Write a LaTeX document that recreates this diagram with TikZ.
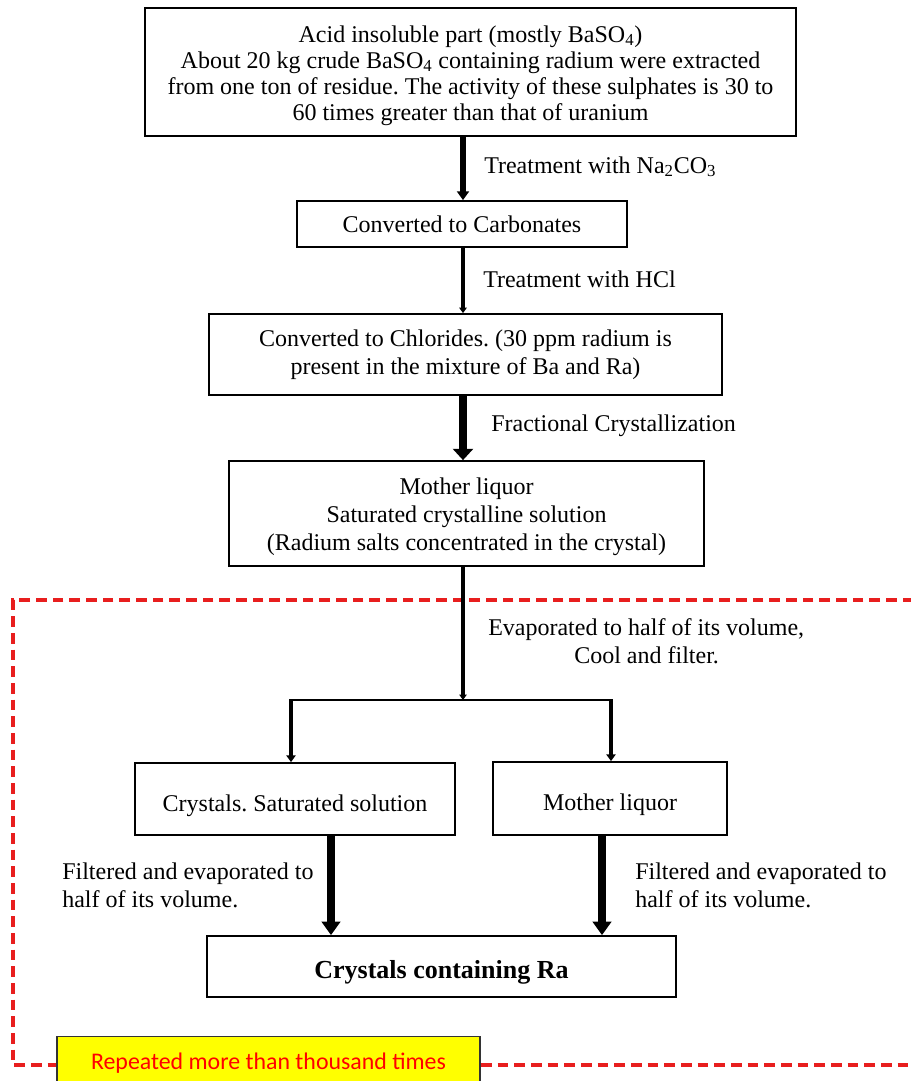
\documentclass[tikz,border=0pt]{standalone}
\usepackage{fontspec}
\setmainfont{Liberation Serif}
\newfontfamily\carlitofont{Carlito}
\usetikzlibrary{arrows.meta}
\definecolor{dashred}{HTML}{E81E1E}
\definecolor{boxyellow}{HTML}{FFFF00}
\frenchspacing
\begin{document}
\begin{tikzpicture}[x=0.75pt,y=-0.75pt,
  stepbox/.style={draw,line width=1.3pt,inner sep=0pt,align=center,
    font=\fontsize{18}{21}\selectfont},
  lbl/.style={inner sep=0pt,font=\fontsize{18}{21}\selectfont},
  arr/.style={-{Triangle[width=#1*2.3,length=#1*1.7]},line width=#1},
]
\useasboundingbox (0,0) rectangle (910,1081);
% red dashed frame
\draw[dashred,line width=2.6pt,dash pattern=on 8pt off 4.5pt]
  (930,600) -- (13,600) -- (13,1065) -- (930,1065);
% spine
\coordinate (spine) at (463,0);
% boxes
\node[stepbox,minimum width=488.25pt,minimum height=96pt,
  font=\fontsize{18}{19.6}\selectfont] (b1) at (470.5,72)
  {\rule{0pt}{18.25pt}Acid insoluble part (mostly BaSO\textsubscript{4})\\
   About 20 kg crude BaSO\textsubscript{4} containing radium were extracted\\
   from one ton of residue. The activity of these sulphates is 30 to\\
   60 times greater than that of uranium};
\node[stepbox,minimum width=247.5pt,minimum height=34.5pt] (b2) at (462,224)
  {Converted to Carbonates};
\node[stepbox,minimum width=384.75pt,minimum height=60.75pt] (b3) at (465.5,354.5)
  {Converted to Chlorides. (30 ppm radium is\\present in the mixture of Ba and Ra)};
\node[stepbox,minimum width=356.25pt,minimum height=78.75pt] (b4) at (466.5,513.5)
  {\rule{0pt}{17.5pt}Mother liquor\\Saturated crystalline solution\\(Radium salts concentrated in the crystal)};
\node[stepbox,minimum width=240pt,minimum height=54pt] (b5) at (295,799)
  {\rule{0pt}{22pt}Crystals. Saturated solution};
\node[stepbox,minimum width=175.5pt,minimum height=54.75pt] (b6) at (610,798.5)
  {\rule{0pt}{22pt}Mother liquor};
\node[stepbox,minimum width=351.75pt,minimum height=45.75pt,
  font=\fontsize{19.5}{22}\selectfont\bfseries] (b7) at (441.5,966.5)
  {\rule{0pt}{22pt}Crystals containing Ra};
% labels
\node[lbl,anchor=west] (l1) at (484,167) {Treatment with Na\textsubscript{2}CO\textsubscript{3}};
\node[lbl,anchor=west] (l2) at (483,279) {Treatment with HCl};
\node[lbl,anchor=west] (l3) at (491,426) {Fractional Crystallization};
\node[lbl,anchor=west,align=left] (l4) at (488,641)
  {Evaporated to half of its volume,\\\hspace*{64.5pt}Cool and filter.};
\node[lbl,anchor=west,align=left] (l5) at (62,885)
  {Filtered and evaporated to\\half of its volume.};
\node[lbl,anchor=west,align=left] (l6) at (635,885)
  {Filtered and evaporated to\\half of its volume.};
% arrows
\draw[arr=3.9pt] (b1.south -| spine) -- (b2.north -| spine);
\draw[arr=2.4pt] (b2.south -| spine) -- (b3.north -| spine);
\draw[-{Triangle[width=15pt,length=8.5pt]},line width=6.3pt]
  (b3.south -| spine) -- (b4.north -| spine);
\coordinate (split) at (463,700);
\coordinate (sl) at (291,700);
\coordinate (sr) at (611,700);
\draw[arr=2.4pt] (b4.south -| spine) -- (split);
\draw[line width=1.3pt] (sl) -- (sr);
\draw[arr=3pt] ([yshift=0.6pt]sl) -- (b5.north -| sl);
\draw[arr=3pt] ([yshift=0.6pt]sr) -- (b6.north -| sr);
\coordinate (dl) at (331,0);
\coordinate (dr) at (602,0);
\draw[arr=6pt] (b5.south -| dl) -- (b7.north -| dl);
\draw[arr=6pt] (b6.south -| dr) -- (b7.north -| dr);
% yellow note
\node[draw=black!80,line width=1pt,fill=boxyellow,minimum width=317.25pt,
  minimum height=40pt,inner sep=0pt,text=red,
  font=\carlitofont\fontsize{17.9}{20}\selectfont] (note) at (268.5,1063)
  {Repeated more than thousand times};
\end{tikzpicture}
\end{document}
